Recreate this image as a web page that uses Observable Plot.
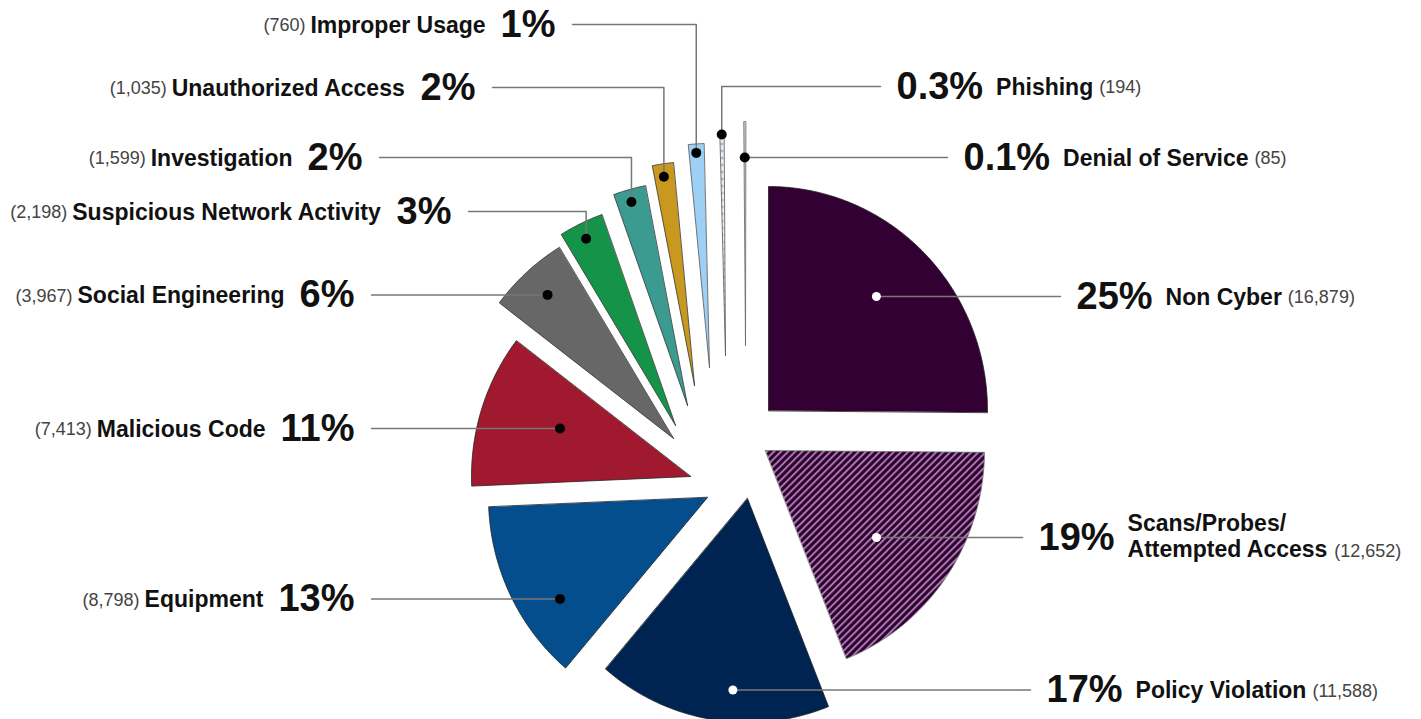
<!DOCTYPE html>
<html><head><meta charset="utf-8">
<script src="https://cdn.jsdelivr.net/npm/d3@7"></script>
<script src="https://cdn.jsdelivr.net/npm/@observablehq/plot@0.6"></script>
<style>body{margin:0;background:#fff;} #chart{width:1421px;height:719px;}</style>
</head><body><div id="chart"></div>
<script>
// ---- data ----
const categories = ["Non Cyber","Scans/Probes/\nAttempted Access","Policy Violation","Equipment","Malicious Code","Social Engineering","Suspicious Network Activity","Investigation","Unauthorized Access","Improper Usage","Phishing","Denial of Service"];
const counts = [16879,12652,11588,8798,7413,3967,2198,1599,1035,760,194,85];
const percentLabels = ["25%","19%","17%","13%","11%","6%","3%","2%","2%","1%","0.3%","0.1%"];

// ---- style / layout ----
const sliceColors = ["#320032","url(#hatch)","#002452","#044e8e","#a1192e","#676767","#159449","#3c9b90","#c8991e","#9ecff5","url(#dotpat)","#c8c8c8"];
const sliceStroke = ["#222","#777","#222","#222","#222","#333","#333","#333","#333","#555","#555","#666"];
const whiteDot = [true,true,true,false,false,false,false,false,false,false,false,false];
const pieCenter = [725, 430];
const explode = [[43,-20],[40,20],[22,68],[-18,67],[-35,46],[-52,8],[-50,-5],[-38,-25],[-31,-45],[-16,-63],[0,-75],[20,-85]];
const RX = 219, RY = 224;
const dotRadius = [157,141,192,179,139,191,207,211,211,215,221,188];
const dotFrac = [0.48,0.555,0.42,0.32,0.57,0.54,0.5,0.5,0.5,0.5,0.5,0.5];
const labelSide = ["right","right","right","left","left","left","left","left","left","left","right","right"];
const labelLineX = [1060,1022,1030,371,371,371,468,379,492,572,880,947];
const labelElbowY = [null,null,null,null,null,null,211,157,87,24,86,null];

const W = 1421, H = 719;
const FONT = '"Liberation Sans", Arial, sans-serif';
const PCT_SIZE = 38, NAME_SIZE = 23, COUNT_SIZE = 18;

const ctx = document.createElement("canvas").getContext("2d");
function tw(s, size, weight) { ctx.font = `${weight} ${size}px ${FONT}`; return ctx.measureText(s).width; }

const pie = d3.pie().sort(null).value(d => d)(counts);
const fmt = d3.format(",");

const slices = [], dots = [], leaders = [], pctT = [], nameT = [], countT = [];
categories.forEach((name, i) => {
  const a0 = pie[i].startAngle, a1 = pie[i].endAngle;
  const tx = pieCenter[0] + explode[i][0], ty = pieCenter[1] + explode[i][1];
  const pts = [{x: tx, y: ty}];
  const n = Math.max(2, Math.ceil((a1 - a0) / (Math.PI / 360)));
  for (let k = 0; k <= n; k++) {
    const a = a0 + (a1 - a0) * k / n;
    pts.push({x: tx + RX * Math.sin(a), y: ty - RY * Math.cos(a)});
  }
  slices.push({i, pts});
  const am = a0 + (a1 - a0) * dotFrac[i];
  const dx = tx + dotRadius[i] * Math.sin(am), dy = ty - dotRadius[i] * Math.cos(am);
  dots.push({x: dx, y: dy, white: whiteDot[i]});
  const ly = labelElbowY[i] == null ? dy : labelElbowY[i];
  const lx = labelLineX[i];
  leaders.push({z: i, x: lx, y: ly}, {z: i, x: dx, y: ly}, {z: i, x: dx, y: dy});

  const lines = name.split("\n");
  const countStr = "(" + fmt(counts[i]) + ")";
  const wp = tw(percentLabels[i], PCT_SIZE, "bold");
  const wn = Math.max(...lines.map(l => tw(l, NAME_SIZE, "bold")));
  const wlast = tw(lines[lines.length - 1], NAME_SIZE, "bold");
  const wc = tw(countStr, COUNT_SIZE, "normal");
  const lastY = lines.length > 1 ? ly + 12.5 : ly;
  if (labelSide[i] === "right") {
    const px = lx + 16;
    pctT.push({x: px, y: ly, t: percentLabels[i]});
    const nx = px + wp + 13;
    nameT.push({x: nx, y: ly - (lines.length > 1 ? 1.5 : 0), t: name});
    countT.push({x: nx + wlast + 6, y: lastY + 1, t: countStr});
  } else {
    const pEnd = lx - 17;
    pctT.push({x: pEnd - wp, y: ly, t: percentLabels[i]});
    const nEnd = pEnd - wp - 15;
    nameT.push({x: nEnd - wn, y: ly, t: name});
    countT.push({x: nEnd - wn - 5 - wc, y: ly + 1, t: countStr});
  }
});

const marks = [];
slices.forEach(s => {
  marks.push(Plot.line(s.pts, {x: "x", y: "y", fill: sliceColors[s.i], stroke: sliceStroke[s.i], strokeWidth: 0.8, curve: "linear-closed"}));
});
marks.push(Plot.line(leaders, {x: "x", y: "y", z: "z", stroke: "#777", strokeWidth: 1.5}));
marks.push(Plot.dot(dots.filter(d => d.white), {x: "x", y: "y", r: 4.5, fill: "white", stroke: "none"}));
marks.push(Plot.dot(dots.filter(d => !d.white), {x: "x", y: "y", r: 5, fill: "black", stroke: "none"}));
marks.push(Plot.text(pctT, {x: "x", y: "y", text: "t", textAnchor: "start", fontSize: PCT_SIZE, fontWeight: "bold", fontFamily: FONT, fill: "#111"}));
marks.push(Plot.text(nameT, {x: "x", y: "y", text: "t", textAnchor: "start", fontSize: NAME_SIZE, fontWeight: "bold", fontFamily: FONT, fill: "#111", lineHeight: 1.1}));
marks.push(Plot.text(countT, {x: "x", y: "y", text: "t", textAnchor: "start", fontSize: COUNT_SIZE, fontWeight: "normal", fontFamily: FONT, fill: "#444"}));

const chart = Plot.plot({
  width: W, height: H, margin: 0,
  style: {background: "white", overflow: "visible"},
  x: {domain: [0, W], range: [0, W], axis: null},
  y: {domain: [0, H], range: [0, H], axis: null},
  marks
});
const svg = d3.select(chart);
const defs = svg.insert("defs", ":first-child");
const hatch = defs.append("pattern").attr("id", "hatch").attr("patternUnits", "userSpaceOnUse")
  .attr("width", 5).attr("height", 5).attr("patternTransform", "rotate(45)");
hatch.append("rect").attr("width", 5).attr("height", 5).attr("fill", "#320032");
hatch.append("rect").attr("width", 1.8).attr("height", 5).attr("fill", "#a984b2");
const dp = defs.append("pattern").attr("id", "dotpat").attr("patternUnits", "userSpaceOnUse")
  .attr("width", 3).attr("height", 7);
dp.append("rect").attr("width", 3).attr("height", 7).attr("fill", "#eeeeee");
dp.append("circle").attr("cx", 1.5).attr("cy", 3.5).attr("r", 0.9).attr("fill", "#4f78b0");
document.getElementById("chart").appendChild(chart);
</script>
</body></html>
